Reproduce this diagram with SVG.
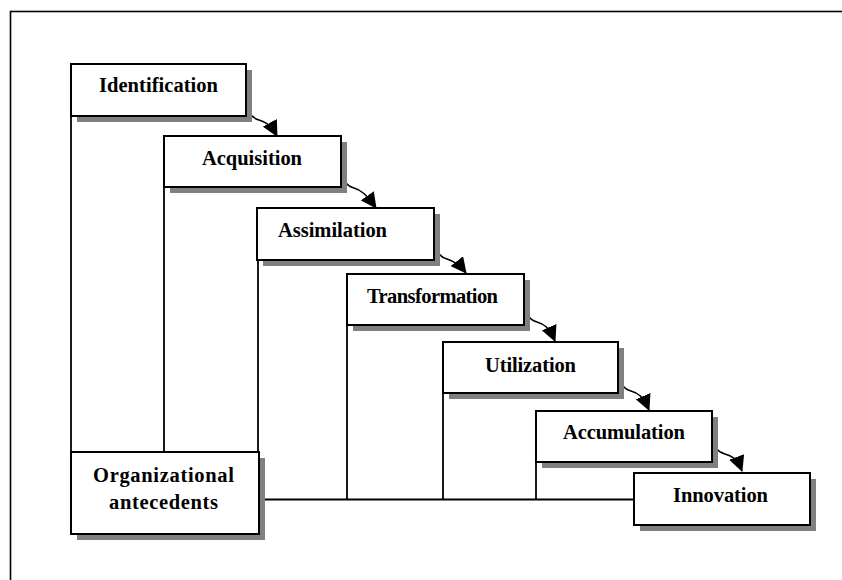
<svg xmlns="http://www.w3.org/2000/svg" width="842" height="580" viewBox="0 0 842 580">
<style>
.box{fill:#ffffff;stroke:#000000;stroke-width:2}
.sh{fill:#808080}
.lbl{font-family:"Liberation Serif","Times New Roman",serif;font-weight:bold;font-size:20.5px;fill:#000000}
.ln{stroke:#000000;stroke-width:1.8;fill:none}
.arr{stroke:#000000;stroke-width:1.6;fill:none;marker-end:url(#ah)}
</style>
<defs>
<marker id="ah" markerUnits="userSpaceOnUse" markerWidth="16" markerHeight="16" viewBox="0 0 16 16" refX="15" refY="8" orient="auto">
<path d="M0,0 L16,8 L0,16 z" fill="#000000"/>
</marker>
</defs>
<rect x="10.5" y="11.5" width="840" height="580" fill="#ffffff" stroke="#000000" stroke-width="1.6"/>
<g id="connectors">
<path class="ln" d="M71,116 V452"/>
<path class="ln" d="M164,187 V452"/>
<path class="ln" d="M258,260 V452"/>
<path class="ln" d="M347,325 V500"/>
<path class="ln" d="M443,393 V500"/>
<path class="ln" d="M536,462 V500"/>
<path class="ln" d="M259,499.5 H634"/>
<path class="arr" d="M246,101 c1,12 6,17 13,19 c7,2 12,5 18,16"/>
<path class="arr" d="M341,169 c1,12 6,17 13,19 c7,2 12,6 22,20"/>
<path class="arr" d="M434,240 c1,12 6,17 13,19 c7,2 12,5 19,14"/>
<path class="arr" d="M524,303 c1,12 6,17 13,19 c7,2 12,5 18,19"/>
<path class="arr" d="M618,372 c1,12 6,17 13,19 c7,2 12,5 18,19"/>
<path class="arr" d="M712,437 c1,11 6,15 13,17 c7,2 12,4 17,17"/>
</g>
<g id="identification">
<rect class="sh" x="77" y="70" width="175" height="52"/>
<rect class="box" x="71" y="64" width="175" height="52"/>
<text class="lbl" x="99" y="92" textLength="119">Identification</text>
</g>
<g id="acquisition">
<rect class="sh" x="170" y="142" width="177" height="51"/>
<rect class="box" x="164" y="136" width="177" height="51"/>
<text class="lbl" x="202" y="165" textLength="100">Acquisition</text>
</g>
<g id="assimilation">
<rect class="sh" x="263" y="214" width="177" height="52"/>
<rect class="box" x="257" y="208" width="177" height="52"/>
<text class="lbl" x="278" y="237" textLength="109">Assimilation</text>
</g>
<g id="transformation">
<rect class="sh" x="353" y="280" width="177" height="51"/>
<rect class="box" x="347" y="274" width="177" height="51"/>
<text class="lbl" x="367" y="303" textLength="131">Transformation</text>
</g>
<g id="utilization">
<rect class="sh" x="449" y="348" width="175" height="51"/>
<rect class="box" x="443" y="342" width="175" height="51"/>
<text class="lbl" x="485" y="372" textLength="91">Utilization</text>
</g>
<g id="accumulation">
<rect class="sh" x="542" y="417" width="176" height="51"/>
<rect class="box" x="536" y="411" width="176" height="51"/>
<text class="lbl" x="563" y="439" textLength="122">Accumulation</text>
</g>
<g id="innovation">
<rect class="sh" x="640" y="479" width="176" height="52"/>
<rect class="box" x="634" y="473" width="176" height="52"/>
<text class="lbl" x="673" y="502" textLength="95">Innovation</text>
</g>
<g id="organizational-antecedents">
<rect class="sh" x="77" y="458" width="188" height="82"/>
<rect class="box" x="71" y="452" width="188" height="82"/>
<text class="lbl" x="93" y="482" textLength="141">Organizational</text>
<text class="lbl" x="109" y="509" textLength="109">antecedents</text>
</g>
</svg>
